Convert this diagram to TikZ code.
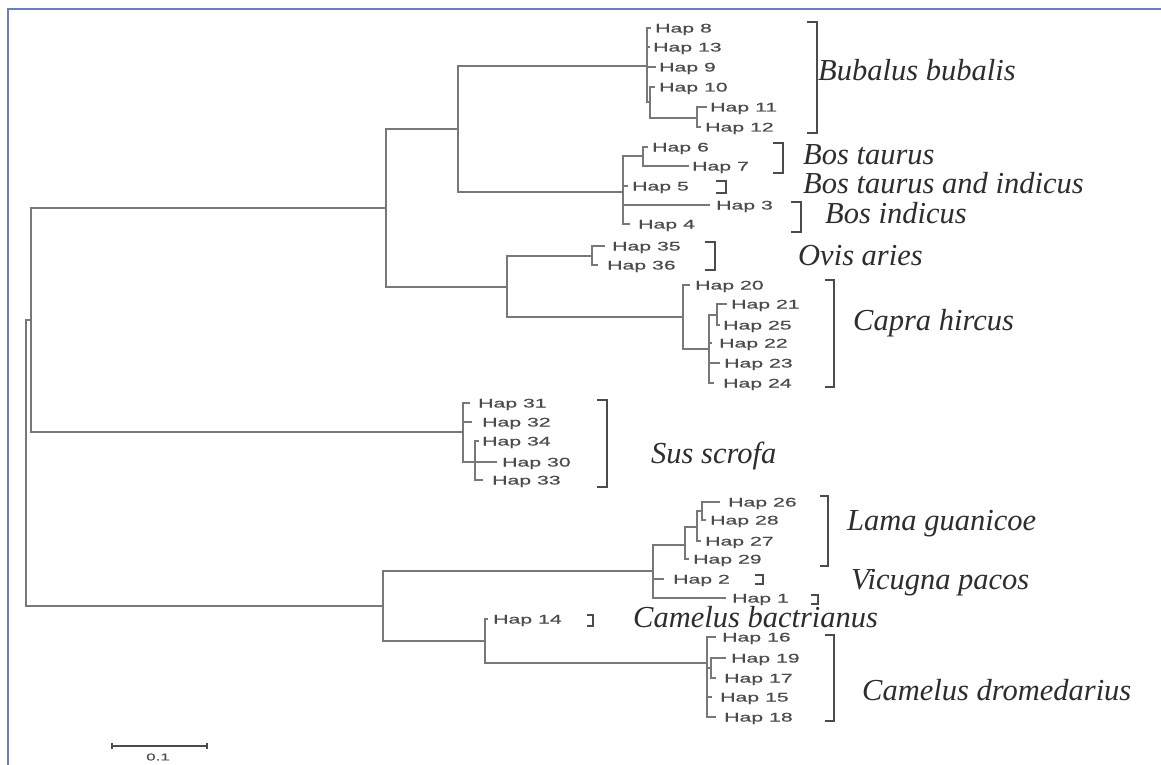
\documentclass[tikz,border=0pt]{standalone}
\usepackage{fontspec}
\setmainfont{Liberation Serif}
\newfontfamily\hapfont[FakeStretch=1.7,FakeBold=0.6]{Liberation Sans}
\definecolor{brc}{RGB}{120,120,120}
\definecolor{txc}{RGB}{75,75,75}
\definecolor{spc}{RGB}{45,45,45}
\definecolor{bdr}{RGB}{110,125,190}
\begin{document}
\begin{tikzpicture}[x=1pt,y=-1pt,
  br/.style={draw=brc, line width=1.9pt},
  hap/.style={font=\hapfont\fontsize{12.5}{13}\selectfont, text=txc, anchor=base west, inner sep=0pt, yshift=-4.5pt},
  sp/.style={font=\itshape\fontsize{30.5}{33}\selectfont, text=spc, anchor=base west, inner sep=0pt, yshift=-8.2pt},
  brk/.style={draw=txc, line width=1.6pt},
  bd/.style={draw=bdr, line width=1.5pt}]
\useasboundingbox (0,0) rectangle (1161,765);
\fill[white] (0,0) rectangle (1161,765);
\draw[bd] (8,765) -- (8,9) -- (1161,9);

% internal nodes
\coordinate (r) at (26,463);
\coordinate (u) at (31,320);
\coordinate (lo) at (383,606);
\coordinate (R) at (386,208);
\coordinate (S) at (463,432);
\coordinate (B) at (458,129);
\coordinate (OC) at (507,287);
\coordinate (A) at (647,66);
\coordinate (A2) at (650,102);
\coordinate (A3) at (697,118);
\coordinate (Bos) at (623,192);
\coordinate (D) at (643,156);
\coordinate (O) at (592,256);
\coordinate (Cap) at (683,317);
\coordinate (C2) at (709,349);
\coordinate (C3) at (717,315);
\coordinate (E) at (475,462);
\coordinate (LV) at (653,571);
\coordinate (L) at (685,545);
\coordinate (L2) at (697,527);
\coordinate (L3) at (702,511);
\coordinate (Cm) at (485,641);
\coordinate (F) at (707,663);
\coordinate (F2) at (711,668);
% tips
\coordinate (t8) at (651,28);
\coordinate (t13) at (650,47);
\coordinate (t9) at (656,67);
\coordinate (t10) at (655,87);
\coordinate (t11) at (707,107);
\coordinate (t12) at (701,127);
\coordinate (t6) at (648,147);
\coordinate (t7) at (689,166);
\coordinate (t5) at (628,186);
\coordinate (t3) at (710,205);
\coordinate (t4) at (630,224);
\coordinate (t35) at (605,246);
\coordinate (t36) at (598,265);
\coordinate (t20) at (690,285);
\coordinate (t21) at (727,304);
\coordinate (t25) at (720,325);
\coordinate (t22) at (712,343);
\coordinate (t23) at (720,363);
\coordinate (t24) at (714,383);
\coordinate (t31) at (470,403);
\coordinate (t32) at (472,422);
\coordinate (t34) at (479,441);
\coordinate (t30) at (497,462);
\coordinate (t33) at (483,480);
\coordinate (t26) at (720,502);
\coordinate (t28) at (706,520);
\coordinate (t27) at (701,541);
\coordinate (t29) at (689,559);
\coordinate (t2) at (664,579);
\coordinate (t1) at (726,598);
\coordinate (t14) at (488,619);
\coordinate (t16) at (716,637);
\coordinate (t19) at (726,658);
\coordinate (t17) at (716,678);
\coordinate (t15) at (712,697);
\coordinate (t18) at (716,717);

% branches
\draw[br] (r) |- (u);
\draw[br] (r) |- (lo);
\draw[br] (u) |- (R);
\draw[br] (u) |- (S);
\draw[br] (R) |- (B);
\draw[br] (R) |- (OC);
\draw[br] (B) |- (A);
\draw[br] (B) |- (Bos);
\draw[br] (A) |- (t8);
\draw[br] (A) |- (t13);
\draw[br] (A) |- (t9);
\draw[br] (A) |- (A2);
\draw[br] (A2) |- (t10);
\draw[br] (A2) |- (A3);
\draw[br] (A3) |- (t11);
\draw[br] (A3) |- (t12);
\draw[br] (Bos) |- (D);
\draw[br] (Bos) |- (t5);
\draw[br] (Bos) |- (t3);
\draw[br] (Bos) |- (t4);
\draw[br] (D) |- (t6);
\draw[br] (D) |- (t7);
\draw[br] (OC) |- (O);
\draw[br] (OC) |- (Cap);
\draw[br] (O) |- (t35);
\draw[br] (O) |- (t36);
\draw[br] (Cap) |- (t20);
\draw[br] (Cap) |- (C2);
\draw[br] (C2) |- (C3);
\draw[br] (C2) |- (t22);
\draw[br] (C2) |- (t23);
\draw[br] (C2) |- (t24);
\draw[br] (C3) |- (t21);
\draw[br] (C3) |- (t25);
\draw[br] (S) |- (t31);
\draw[br] (S) |- (t32);
\draw[br] (S) |- (E);
\draw[br] (E) |- (t34);
\draw[br] (E) |- (t30);
\draw[br] (E) |- (t33);
\draw[br] (lo) |- (LV);
\draw[br] (lo) |- (Cm);
\draw[br] (LV) |- (L);
\draw[br] (LV) |- (t2);
\draw[br] (LV) |- (t1);
\draw[br] (L) |- (L2);
\draw[br] (L) |- (t29);
\draw[br] (L2) |- (L3);
\draw[br] (L2) |- (t27);
\draw[br] (L3) |- (t26);
\draw[br] (L3) |- (t28);
\draw[br] (Cm) |- (t14);
\draw[br] (Cm) |- (F);
\draw[br] (F) |- (t16);
\draw[br] (F) |- (F2);
\draw[br] (F) |- (t15);
\draw[br] (F) |- (t18);
\draw[br] (F2) |- (t19);
\draw[br] (F2) |- (t17);

% haplotype labels
\node[hap] (l8) at (655,28) {Hap 8};
\node[hap] (l13) at (653,47) {Hap 13};
\node[hap] (l9) at (659,67) {Hap 9};
\node[hap] (l10) at (659,87) {Hap 10};
\node[hap] (l11) at (710,107) {Hap 11};
\node[hap] (l12) at (705,127) {Hap 12};
\node[hap] (l6) at (652,147) {Hap 6};
\node[hap] (l7) at (692,166) {Hap 7};
\node[hap] (l5) at (632,186) {Hap 5};
\node[hap] (l3) at (716,205) {Hap 3};
\node[hap] (l4) at (638,224) {Hap 4};
\node[hap] (l35) at (612,246) {Hap 35};
\node[hap] (l36) at (607,265) {Hap 36};
\node[hap] (l20) at (695,285) {Hap 20};
\node[hap] (l21) at (731,304) {Hap 21};
\node[hap] (l25) at (723,325) {Hap 25};
\node[hap] (l22) at (719,343) {Hap 22};
\node[hap] (l23) at (724,363) {Hap 23};
\node[hap] (l24) at (723,383) {Hap 24};
\node[hap] (l31) at (478,403) {Hap 31};
\node[hap] (l32) at (482,422) {Hap 32};
\node[hap] (l34) at (482,441) {Hap 34};
\node[hap] (l30) at (502,462) {Hap 30};
\node[hap] (l33) at (492,480) {Hap 33};
\node[hap] (l26) at (728,502) {Hap 26};
\node[hap] (l28) at (710,520) {Hap 28};
\node[hap] (l27) at (705,541) {Hap 27};
\node[hap] (l29) at (693,559) {Hap 29};
\node[hap] (l2) at (673,579) {Hap 2};
\node[hap] (l1) at (732,598) {Hap 1};
\node[hap] (l14) at (493,619) {Hap 14};
\node[hap] (l16) at (722,637) {Hap 16};
\node[hap] (l19) at (731,658) {Hap 19};
\node[hap] (l17) at (724,678) {Hap 17};
\node[hap] (l15) at (720,697) {Hap 15};
\node[hap] (l18) at (724,717) {Hap 18};

% brackets
\draw[brk] (807,22) -- (817,22) -- (817,133) -- (807,133);
\draw[brk] (773,143) -- (783,143) -- (783,173) -- (773,173);
\draw[brk] (716,181) -- (726,181) -- (726,193) -- (716,193);
\draw[brk] (791,202) -- (801,202) -- (801,232) -- (791,232);
\draw[brk] (705,242) -- (715,242) -- (715,270) -- (705,270);
\draw[brk] (825,280) -- (834,280) -- (834,387) -- (825,387);
\draw[brk] (597,400) -- (607,400) -- (607,487) -- (597,487);
\draw[brk] (820,496) -- (828,496) -- (828,566) -- (820,566);
\draw[brk] (755,575) -- (763,575) -- (763,584) -- (755,584);
\draw[brk] (811,595) -- (818,595) -- (818,604) -- (811,604);
\draw[brk] (587,615) -- (593,615) -- (593,626) -- (587,626);
\draw[brk] (825,635) -- (834,635) -- (834,721) -- (825,721);

% species
\node[sp] (s1) at (818,72) {Bubalus bubalis};
\node[sp] (s2) at (803,156) {Bos taurus};
\node[sp] (s3) at (803,185) {Bos taurus and indicus};
\node[sp] (s4) at (825,215) {Bos indicus};
\node[sp] (s5) at (798,257) {Ovis aries};
\node[sp] (s6) at (853,322) {Capra hircus};
\node[sp] (s7) at (651,455) {Sus scrofa};
\node[sp] (s8) at (847,522) {Lama guanicoe};
\node[sp] (s9) at (851,581) {Vicugna pacos};
\node[sp] (s10) at (633,619) {Camelus bactrianus};
\node[sp] (s11) at (862,692) {Camelus dromedarius};

% scale bar
\coordinate (sb1) at (112,746);
\coordinate (sb2) at (207,746);
\draw[draw=txc, line width=1.5pt] (sb1) -- (sb2);
\draw[draw=txc, line width=1.5pt] ([yshift=3pt]sb1) -- ([yshift=-3pt]sb1);
\draw[draw=txc, line width=1.5pt] ([yshift=3pt]sb2) -- ([yshift=-3pt]sb2);
\node[font=\hapfont\fontsize{10}{11}\selectfont, text=txc, inner sep=0pt] (sbl) at (158,757) {0.1};
\end{tikzpicture}
\end{document}
